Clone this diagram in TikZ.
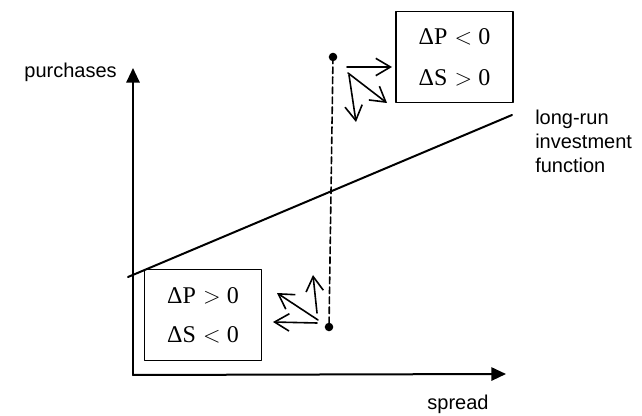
\documentclass[tikz,border=0pt]{standalone}
\usepackage{fontspec}
\setmainfont{Liberation Serif}
\setsansfont{Liberation Sans}
\usetikzlibrary{arrows.meta}
\begin{document}
\begin{tikzpicture}[x=0.75pt, y=-0.75pt, line join=round, line cap=round,
  axis/.style={line width=1.5pt, -{Triangle[length=11pt,width=10pt]}},
  move/.style={line width=1.2pt, -{Straight Barb[length=11pt,width=13pt,line width=1.2pt]}},
  statebox/.style={draw, line width=1.1pt, minimum width=88pt, minimum height=68pt, align=center, font=\fontsize{18}{21}\selectfont},
  lbl/.style={font=\sffamily\fontsize{15}{18}\selectfont, inner sep=0pt}]
\useasboundingbox (0,0) rectangle (642,416);
% axes
\coordinate (O) at (133,375);
\coordinate (ytip) at (133,68);
\coordinate (xtip) at (506,374);
\draw[axis] (O)--(ytip);
\draw[axis] (O)--(xtip);
\node[lbl, anchor=east] (purch) at (117,72) {purchases};
\node[lbl] (spread) at (458,404) {spread};
% long-run line
\coordinate (lr1) at (128,277);
\coordinate (lr2) at (512,115);
\draw[line width=1.5pt] (lr1)--(lr2);
\node[lbl, anchor=west, align=left] (lrlab) at (535,141) {long-run\\investment\\function};
% boxes
\node[statebox] (upbox) at (454.5,57) {ΔP\hspace{0.3em}$<$\hspace{0.25em}0\\[10pt]ΔS\hspace{0.3em}$>$\hspace{0.25em}0};
\node[statebox] (lowbox) at (203,315) {ΔP\hspace{0.3em}$>$\hspace{0.25em}0\\[8pt]ΔS\hspace{0.3em}$<$\hspace{0.25em}0};
% points and dashed line
\fill (333,57) circle (3.2pt) coordinate (updot);
\fill (329,327) circle (3.2pt) coordinate (lowdot);
\draw[line width=1.2pt, dash pattern=on 5pt off 2.5pt] (updot)--(lowdot);
% upper moves
\coordinate (ua) at (347,67);  \coordinate (ua2) at (392,67);
\coordinate (ub) at (348,73);  \coordinate (ub2) at (387,103);
\coordinate (uc) at (349,75);  \coordinate (uc2) at (356,122);
\draw[move] (ua)--(ua2);
\draw[move] (ub)--(ub2);
\draw[move] (uc)--(uc2);
% lower moves
\coordinate (la) at (317,313); \coordinate (la2) at (313,275);
\coordinate (lb) at (318,320); \coordinate (lb2) at (277,293);
\coordinate (lc) at (317,323); \coordinate (lc2) at (273,322);
\draw[move] (la)--(la2);
\draw[move] (lb)--(lb2);
\draw[move] (lc)--(lc2);
\end{tikzpicture}
\end{document}
